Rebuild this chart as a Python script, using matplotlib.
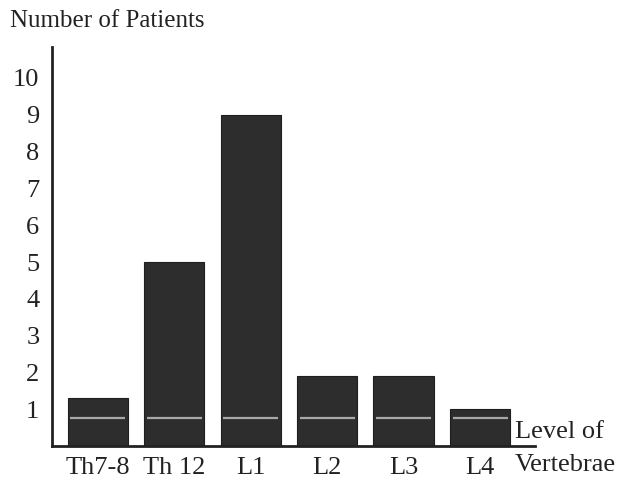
import matplotlib.pyplot as plt

levels = ["Th7-8", "Th 12", "L1", "L2", "L3", "L4"]
patients = [1.3, 5, 9, 1.9, 1.9, 1.0]
y_ticks = [1, 2, 3, 4, 5, 6, 7, 8, 9, 10]

plt.rcParams['font.family'] = ['Liberation Serif', 'DejaVu Serif']

fig = plt.figure(figsize=(6.18, 4.87), dpi=100)
ax = fig.add_axes([0.084, 0.084, 0.782, 0.8195])

x = range(len(levels))
ax.bar(x, patients, width=0.79, color='#2d2d2d', edgecolor='#1e1e1e', linewidth=0.8, zorder=2)
# light streak across each bar, as in the scan
ax.hlines([0.75] * len(levels), [i - 0.36 for i in x], [i + 0.36 for i in x],
          colors='#c8c8c8', linewidth=1.6, alpha=0.8, zorder=3)

ax.set_xlim(-0.6, 5.72)
ax.set_ylim(0, 10.84)
ax.set_yticks(y_ticks)
ax.set_yticklabels([str(v) for v in y_ticks], fontsize=19, color='#222222')
ax.set_xticks(list(x))
ax.set_xticklabels(levels, fontsize=19, color='#222222')
ax.tick_params(axis='both', length=0)
ax.tick_params(axis='y', pad=9)
ax.tick_params(axis='x', pad=8)

for s in ['top', 'right']:
    ax.spines[s].set_visible(False)
for s in ['left', 'bottom']:
    ax.spines[s].set_linewidth(2)
    ax.spines[s].set_color('#222222')

fig.text(0.016, 0.957, "Number of Patients", fontsize=18, color='#222222', va='center', ha='left')
fig.text(0.833, 0.113, "Level of", fontsize=19, color='#222222', va='center', ha='left')
fig.text(0.833, 0.045, "Vertebrae", fontsize=19, color='#222222', va='center', ha='left')

fig.savefig("out.png", dpi=100)
